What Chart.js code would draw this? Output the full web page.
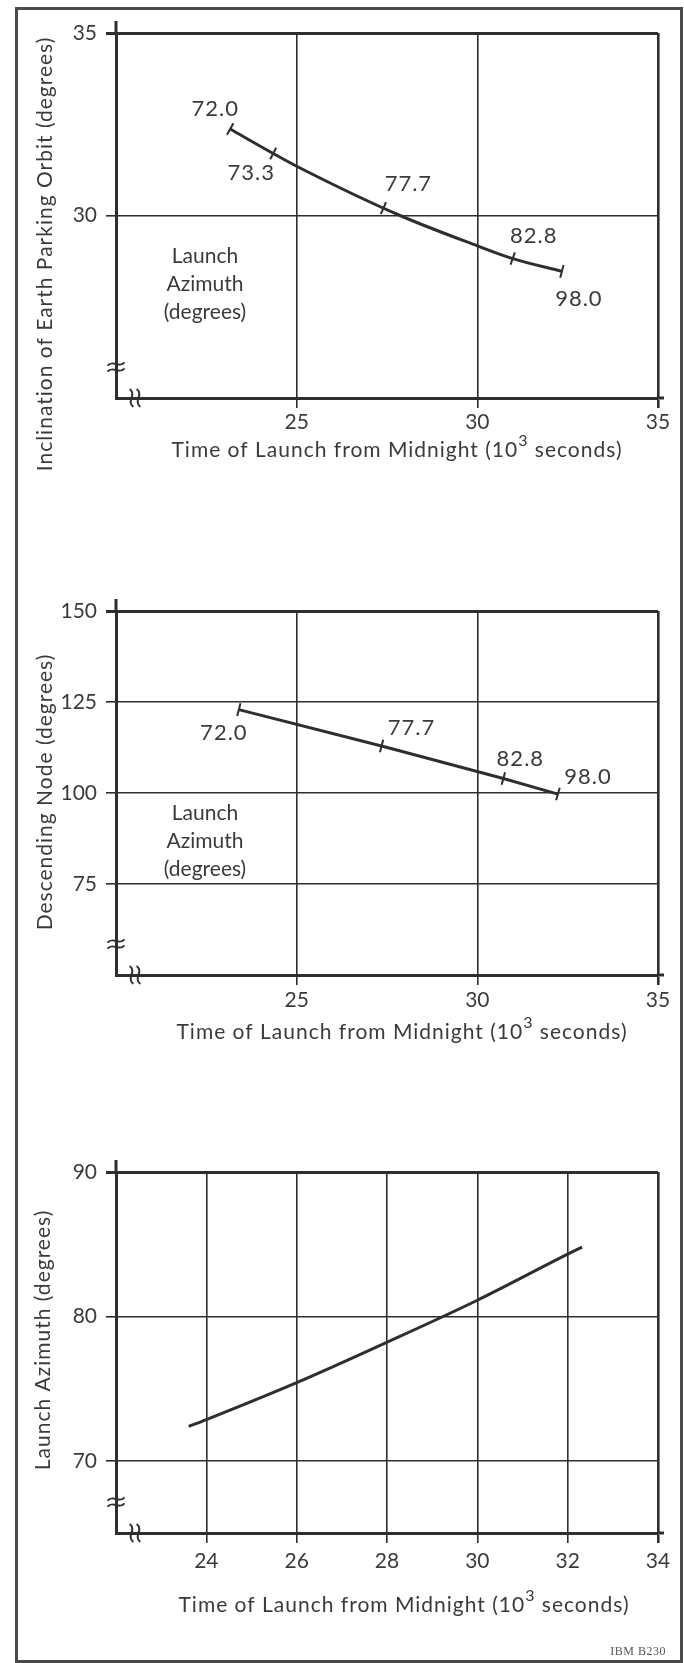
<!DOCTYPE html>
<html>
<head>
<meta charset="utf-8">
<title>Launch time charts</title>
<script src="https://cdn.jsdelivr.net/npm/chart.js@4.4.1/dist/chart.umd.min.js"></script>
<style>
  body { margin: 0; background: #fff; }
  #page { position: relative; width: 684px; height: 1663px; overflow: hidden; }
  #frame { position: absolute; left: 15px; top: 7px; width: 668px; height: 1656px;
           border: 3px solid #4a4a4a; box-sizing: border-box; }
  canvas { position: absolute; left: 0; }
  #c1 { top: 0; }
  #c2 { top: 560px; }
  #c3 { top: 1100px; }
  #ref { position: absolute; right: 18px; top: 1644px; font: 12px "Liberation Serif";
         color: #555; letter-spacing: .5px; }
</style>
</head>
<body>
<div id="page">
  <div id="frame"></div>
  <canvas id="c1" width="684" height="480"></canvas>
  <canvas id="c2" width="684" height="500"></canvas>
  <canvas id="c3" width="684" height="563"></canvas>
  <div id="ref">IBM B230</div>
</div>
<script>
// grafico 1 - inclinazione dell'orbita di parcheggio
var incTime = [23.16, 24.35, 25.0, 27.86, 30.0, 30.98, 32.34];
var incDeg  = [32.37, 31.70, 31.35, 30.00, 29.17, 28.82, 28.47];
var incAzim = ['72.0', '73.3', '77.7', '82.8', '98.0'];
var incAzimTime = [23.16, 24.35, 27.40, 30.98, 32.34];
var incAzimDeg  = [32.37, 31.70, 30.20, 28.82, 28.47];
var incTicksX = [25, 30, 35];
var incTicksY = [30, 35];

// grafico 2 - nodo discendente
var nodeTime = [23.40, 27.35, 30.72, 32.23];
var nodeDeg  = [122.9, 112.9, 104.0, 99.7];
var nodeAzim = ['72.0', '77.7', '82.8', '98.0'];
var nodeTicksX = [25, 30, 35];
var nodeTicksY = [75, 100, 125, 150];

// grafico 3 - azimut di lancio
var azTime = [23.61, 24, 26, 28, 30, 32, 32.32];
var azDeg  = [72.38, 72.85, 75.41, 78.21, 81.12, 84.31, 84.80];
var azTicksX = [24, 26, 28, 30, 32, 34];
var azTicksY = [70, 80, 90];

var INK = '#2e2e2e';
var TEXT = '#3a3a3a';
var FONT = 'Lato';
// titolo asse x: testo, esponente, testo
var X_TITLE = ['Time of Launch from Midnight (10', '3', ' seconds)'];

function punti(xs, ys) {
  var p = [];
  for (var i = 0; i < xs.length; i++) {
    p.push({x: xs[i], y: ys[i]});
  }
  return p;
}

// una piccola onda, orizzontale o verticale
function onda(ctx, cx, cy, w, h, verticale) {
  ctx.beginPath();
  if (!verticale) {
    ctx.moveTo(cx - w / 2, cy + h / 3);
    ctx.bezierCurveTo(cx - w / 6, cy - h, cx + w / 6, cy + h, cx + w / 2, cy - h / 3);
  } else {
    ctx.moveTo(cx - h / 3, cy - w / 2);
    ctx.bezierCurveTo(cx + h, cy - w / 6, cx - h, cy + w / 6, cx + h / 3, cy + w / 2);
  }
  ctx.stroke();
}

// titolo asse x con il 3 in apice
function titoloX(ctx, cx, cy) {
  var big = '21px ' + FONT, small = '16px ' + FONT;
  ctx.font = big;
  var w0 = ctx.measureText(X_TITLE[0]).width;
  var w2 = ctx.measureText(X_TITLE[2]).width;
  ctx.font = small;
  var w1 = ctx.measureText(X_TITLE[1]).width;
  var x = cx - (w0 + w1 + w2) / 2;
  ctx.textAlign = 'left';
  ctx.font = big;
  ctx.fillText(X_TITLE[0], x, cy);
  ctx.font = small;
  ctx.fillText(X_TITLE[1], x + w0, cy - 9);
  ctx.font = big;
  ctx.fillText(X_TITLE[2], x + w0 + w1, cy);
  ctx.textAlign = 'center';
}

var decor = {
  id: 'decor',
  afterDraw: function(chart, args, o) {
    var ctx = chart.ctx;
    var a = chart.chartArea;
    ctx.save();
    ctx.strokeStyle = INK;
    ctx.lineCap = 'butt';

    // asse y oltre la riga in alto, asse x oltre il bordo destro
    ctx.lineWidth = 3;
    ctx.beginPath();
    ctx.moveTo(a.left, a.top + 1);
    ctx.lineTo(a.left, a.top - 12);
    ctx.moveTo(a.right, a.bottom);
    ctx.lineTo(a.right + 6, a.bottom);
    ctx.stroke();

    // simboli di interruzione degli assi
    ctx.lineWidth = 2;
    var by = a.bottom - 31;
    onda(ctx, a.left, by - 3, 17, 5, false);
    onda(ctx, a.left, by + 3, 17, 5, false);
    var bx = a.left + 19;
    onda(ctx, bx - 3.5, a.bottom, 18, 5.5, true);
    onda(ctx, bx + 3.5, a.bottom, 18, 5.5, true);

    // titoli degli assi
    ctx.fillStyle = TEXT;
    ctx.textAlign = 'center';
    ctx.textBaseline = 'middle';
    ctx.letterSpacing = '1px';
    titoloX(ctx, o.xTitleAt[0], o.xTitleAt[1]);
    ctx.font = '21px ' + FONT;
    ctx.save();
    ctx.translate(o.yTitleAt[0], o.yTitleAt[1]);
    ctx.rotate(-Math.PI / 2);
    ctx.fillText(o.yTitle, 0, 0);
    ctx.restore();
    ctx.letterSpacing = '0px';

    // nota "Launch Azimuth (degrees)"
    if (o.noteAt) {
      var righe = ['Launch', 'Azimuth', '(degrees)'];
      for (var r = 0; r < righe.length; r++) {
        ctx.fillText(righe[r], o.noteAt[0], o.noteAt[1] + (r - 1) * 28);
      }
    }

    // tacche e valori dell'azimut lungo la curva
    if (o.labels) {
      var meta = chart.getDatasetMeta(1);
      var pts = meta.data;
      ctx.lineWidth = 2;
      ctx.font = '22px ' + FONT;
      ctx.letterSpacing = '1px';
      for (var i = 0; i < pts.length; i++) {
        var p = pts[i];
        var q0 = pts[Math.max(i - 1, 0)];
        var q1 = pts[Math.min(i + 1, pts.length - 1)];
        var dx = q1.x - q0.x, dy = q1.y - q0.y;
        var len = Math.sqrt(dx * dx + dy * dy) || 1;
        var nx = -dy / len * 6.5, ny = dx / len * 6.5;
        ctx.beginPath();
        ctx.moveTo(p.x - nx, p.y - ny);
        ctx.lineTo(p.x + nx, p.y + ny);
        ctx.stroke();
        var off = o.offsets[i];
        ctx.fillText(o.labels[i], p.x + off[0], p.y + off[1]);
      }
    }
    ctx.restore();
  }
};

function griglia(bordo, spessore) {
  return {
    color: INK,
    tickColor: INK,
    tickLength: 10,
    lineWidth: function(c) {
      return c.tick && c.tick.value === bordo ? spessore : 1.6;
    }
  };
}

function creaGrafico(id, cfg) {
  var datasets = [{
    data: punti(cfg.xs, cfg.ys),
    showLine: true,
    borderColor: INK,
    borderWidth: 3,
    pointRadius: 0,
    cubicInterpolationMode: cfg.smooth ? 'monotone' : 'default',
    tension: 0
  }];
  if (cfg.marks) {
    datasets.push({
      data: punti(cfg.marks[0], cfg.marks[1]),
      showLine: false,
      pointRadius: 0
    });
  }
  return new Chart(document.getElementById(id), {
    type: 'scatter',
    data: { datasets: datasets },
    options: {
      responsive: false,
      animation: false,
      events: [],
      layout: { padding: { left: 0, top: cfg.padTop, right: 26, bottom: 0 } },
      scales: {
        x: {
          type: 'linear',
          min: cfg.xRange[0],
          max: cfg.xRange[1],
          afterBuildTicks: function(s) {
            s.ticks = cfg.ticksX.map(function(v) { return {value: v}; });
          },
          afterFit: function(s) { s.height = cfg.xAxisHeight; },
          grid: griglia(cfg.xRange[1], 2.6),
          border: { display: true, color: INK, width: 3 },
          ticks: {
            color: TEXT,
            padding: cfg.xPad,
            maxRotation: 0,
            font: { family: FONT, size: 21 },
            callback: function(v) { return String(v); }
          }
        },
        y: {
          type: 'linear',
          min: cfg.yRange[0],
          max: cfg.yRange[1],
          afterBuildTicks: function(s) {
            s.ticks = cfg.ticksY.map(function(v) { return {value: v}; });
          },
          afterFit: function(s) { s.width = 116; },
          grid: griglia(cfg.yRange[1], 3),
          border: { display: true, color: INK, width: 3 },
          ticks: {
            color: TEXT,
            padding: 9,
            font: { family: FONT, size: 21 },
            callback: function(v) { return String(v); }
          }
        }
      },
      plugins: {
        legend: { display: false },
        tooltip: { enabled: false },
        decor: {
          yTitle: cfg.yTitle,
          xTitleAt: cfg.xTitleAt,
          yTitleAt: cfg.yTitleAt,
          noteAt: cfg.noteAt,
          labels: cfg.labels,
          offsets: cfg.offsets
        }
      }
    },
    plugins: [decor]
  });
}

creaGrafico('c1', {
  xs: incTime, ys: incDeg, smooth: true,
  marks: [incAzimTime, incAzimDeg], labels: incAzim,
  offsets: [[-15, -20], [-22, 19], [25, -24], [21, -23], [17, 28]],
  xRange: [20, 35], yRange: [25, 35],
  ticksX: incTicksX, ticksY: incTicksY,
  padTop: 33, xAxisHeight: 82, xPad: 2,
  yTitle: 'Inclination of Earth Parking Orbit (degrees)',
  xTitleAt: [397, 450], yTitleAt: [45, 254], noteAt: [205, 284]
});

creaGrafico('c2', {
  xs: nodeTime, ys: nodeDeg, smooth: false,
  marks: [nodeTime, nodeDeg], labels: nodeAzim,
  offsets: [[-15, 23], [30, -18], [17, -20], [30, -17]],
  xRange: [20, 35], yRange: [50, 150],
  ticksX: nodeTicksX, ticksY: nodeTicksY,
  padTop: 51, xAxisHeight: 85, xPad: 3,
  yTitle: 'Descending Node (degrees)',
  xTitleAt: [402, 472], yTitleAt: [45, 232], noteAt: [205, 281]
});

creaGrafico('c3', {
  xs: azTime, ys: azDeg, smooth: true,
  marks: null, labels: null, offsets: null,
  xRange: [22, 34], yRange: [65, 90],
  ticksX: azTicksX, ticksY: azTicksY,
  padTop: 72, xAxisHeight: 130, xPad: 6,
  yTitle: 'Launch Azimuth (degrees)',
  xTitleAt: [404, 505], yTitleAt: [43, 240], noteAt: null
});
</script>
</body>
</html>
